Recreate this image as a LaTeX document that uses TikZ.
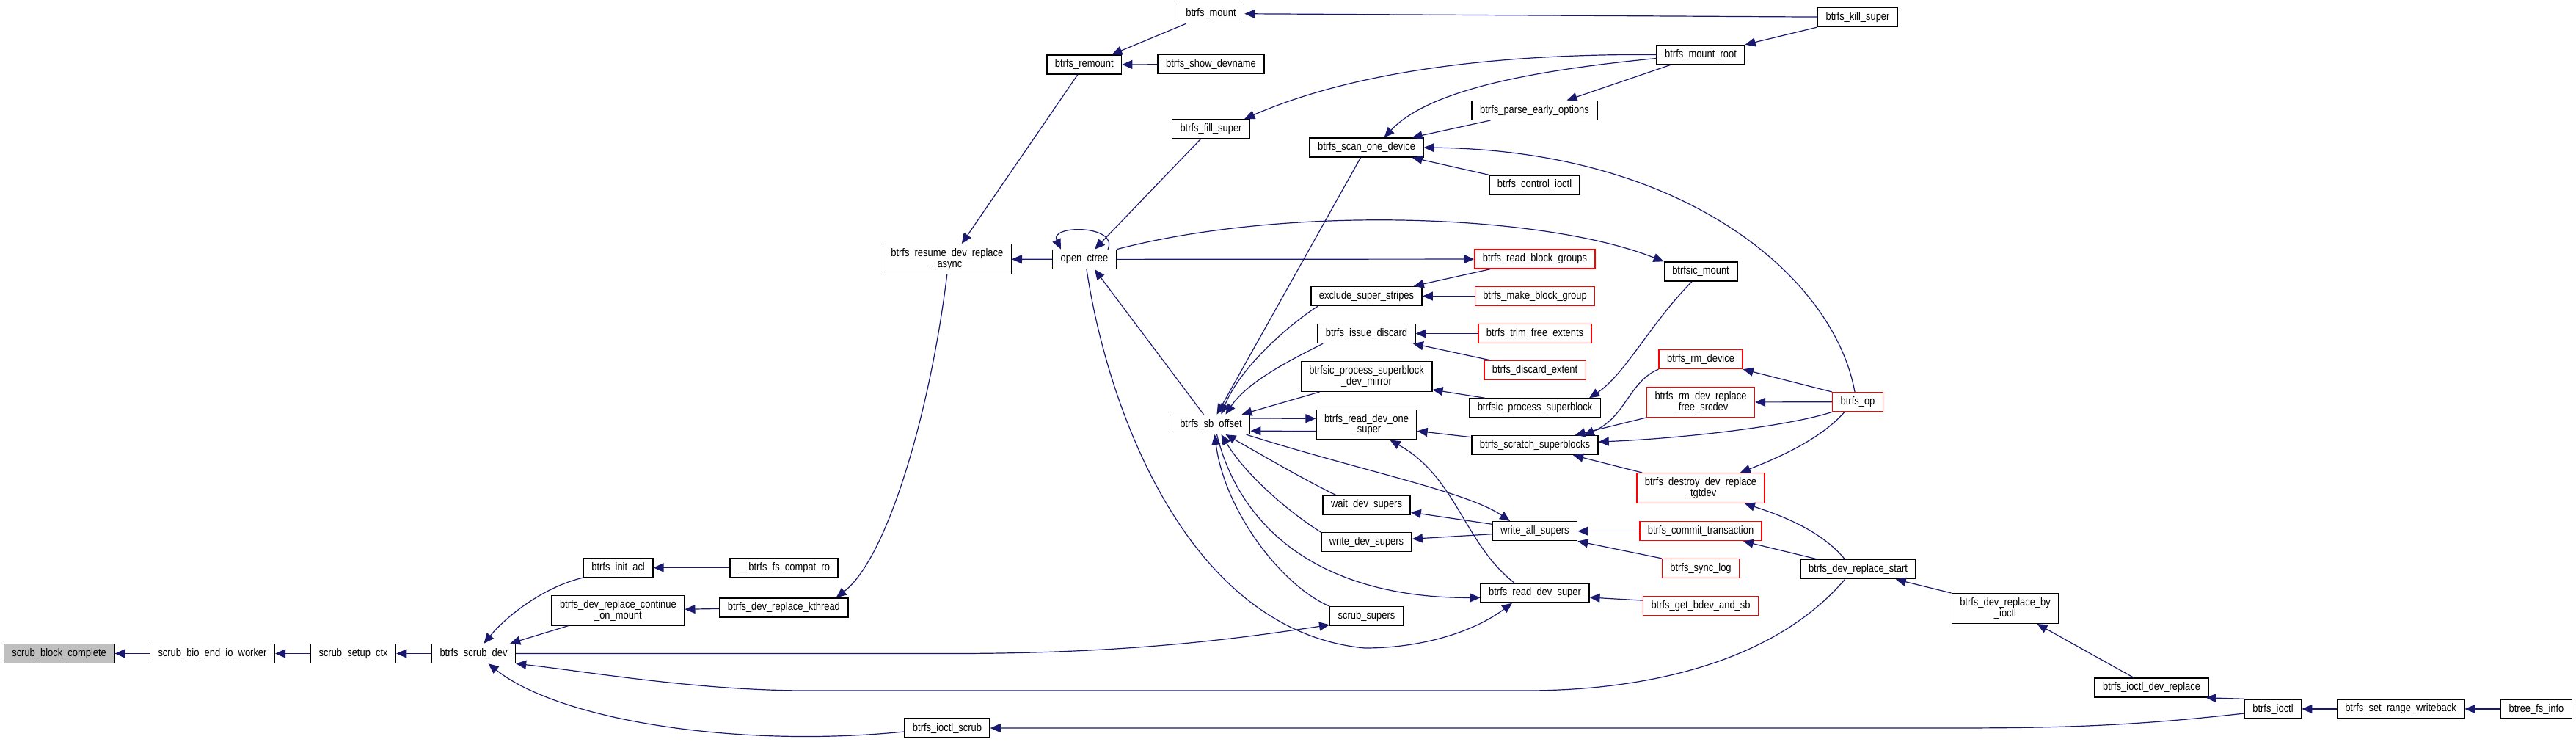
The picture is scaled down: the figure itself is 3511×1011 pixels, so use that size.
\documentclass[tikz,border=0pt]{standalone}
\usepackage{fontspec}
\setmainfont{Liberation Sans}[FakeStretch=0.85]
\usetikzlibrary{arrows.meta}
\definecolor{linkblue}{RGB}{25,25,112}
\definecolor{nodegray}{RGB}{191,191,191}
\tikzset{
  fn/.style={draw=black, fill=white, line width=0.7pt, inner xsep=5.5pt, inner ysep=1pt, minimum height=13pt, align=center, font=\fontsize{7.6}{7.3}\selectfont},
  fntwo/.style={fn, minimum height=20.3pt},
  trunc/.style={draw=red},
  link/.style={draw=linkblue, line width=0.6pt, -{Triangle[length=7pt,width=6pt]}},
}

\begin{document}
\begin{tikzpicture}[x=0.5pt, y=-0.5pt]
  \useasboundingbox (0,0) rectangle (3511,1011);

  \node[fn, fill=nodegray] (sbc) at (80.6,890.5) {scrub\_block\_complete};
  \node[fn] (sbeiw) at (289.5,890.5) {scrub\_bio\_end\_io\_worker};
  \node[fn] (ssc) at (481.6,890.5) {scrub\_setup\_ctx};
  \node[fn] (bsd) at (645.5,890.5) {btrfs\_scrub\_dev};
  \node[fn] (bia) at (842.6,773.4) {btrfs\_init\_acl};
  \node[fn] (bfcr) at (1068.5,773.4) {\_\_btrfs\_fs\_compat\_ro};
  \node[fntwo] (bdrcm) at (842.4,831.7) {btrfs\_dev\_replace\_continue\\\_on\_mount};
  \node[fn] (bdrk) at (1068.4,828) {btrfs\_dev\_replace\_kthread};
  \node[fn] (bis) at (1291,992) {btrfs\_ioctl\_scrub};
  \node[fntwo] (brdra) at (1290.8,353) {btrfs\_resume\_dev\_replace\\\_async};
  \node[fn] (brm) at (1477.8,88) {btrfs\_remount};
  \node[fn] (oc) at (1478,353.4) {open\_ctree};
  \node[fn] (bm) at (1650.5,18.5) {btrfs\_mount};
  \node[fn] (bsdn) at (1650.5,87.7) {btrfs\_show\_devname};
  \node[fn] (bfs) at (1650.5,175.7) {btrfs\_fill\_super};
  \node[fn] (bso) at (1650.5,578.4) {btrfs\_sb\_offset};
  \node[fn] (bsod) at (1862.5,201) {btrfs\_scan\_one\_device};
  \node[fn] (ess) at (1862.5,403.5) {exclude\_super\_stripes};
  \node[fn] (bid) at (1862.5,454.5) {btrfs\_issue\_discard};
  \node[fntwo] (bpsdm) at (1862.5,513) {btrfsic\_process\_superblock\\\_dev\_mirror};
  \node[fntwo] (brdos) at (1862.5,578.7) {btrfs\_read\_dev\_one\\\_super};
  \node[fn] (wds) at (1862.5,688) {wait\_dev\_supers};
  \node[fn] (wrds) at (1862.5,738.7) {write\_dev\_supers};
  \node[fn] (ss) at (1862.5,839.7) {scrub\_supers};
  \node[fn] (bpeo) at (2091.5,150.3) {btrfs\_parse\_early\_options};
  \node[fn] (bci) at (2091.5,252) {btrfs\_control\_ioctl};
  \node[fn, trunc] (brbg) at (2092,353) {btrfs\_read\_block\_groups};
  \node[fn, trunc] (bmbg) at (2092,403.5) {btrfs\_make\_block\_group};
  \node[fn, trunc] (btfe) at (2092,454.5) {btrfs\_trim\_free\_extents};
  \node[fn, trunc] (bde) at (2092,504.7) {btrfs\_discard\_extent};
  \node[fn] (bps) at (2092,556) {btrfsic\_process\_superblock};
  \node[fn] (bss) at (2092,606.5) {btrfs\_scratch\_superblocks};
  \node[fn] (was) at (2092,723.7) {write\_all\_supers};
  \node[fn] (brds) at (2092,808) {btrfs\_read\_dev\_super};
  \node[fn] (bmr) at (2318,74.5) {btrfs\_mount\_root};
  \node[fn] (bim) at (2318,370) {btrfsic\_mount};
  \node[fn, trunc] (brmd) at (2318,489.5) {btrfs\_rm\_device};
  \node[fntwo, trunc] (brdrfs) at (2318,548) {btrfs\_rm\_dev\_replace\\\_free\_srcdev};
  \node[fntwo, trunc] (bddrt) at (2318,665) {btrfs\_destroy\_dev\_replace\\\_tgtdev};
  \node[fn, trunc] (bct) at (2318,723.7) {btrfs\_commit\_transaction};
  \node[fn, trunc] (bsl) at (2318,774.5) {btrfs\_sync\_log};
  \node[fn, trunc] (bgbs) at (2318,825.3) {btrfs\_get\_bdev\_and\_sb};
  \node[fn] (bks) at (2532,23.4) {btrfs\_kill\_super};
  \node[fn, trunc] (bop) at (2532,547.7) {btrfs\_op};
  \node[fn] (bdrs) at (2532.5,775.7) {btrfs\_dev\_replace\_start};
  \node[fntwo] (bdrbi) at (2733,829) {btrfs\_dev\_replace\_by\\\_ioctl};
  \node[fn] (bidr) at (2932.5,937) {btrfs\_ioctl\_dev\_replace};
  \node[fn] (bi) at (3098,966) {btrfs\_ioctl};
  \node[fn] (bsrw) at (3272,966) {btrfs\_set\_range\_writeback};
  \node[fn] (bfi) at (3457,966) {btree\_fs\_info};

  \draw[link] (sbeiw) -- (sbc);
  \draw[link] (ssc) -- (sbeiw);
  \draw[link] (bsd) -- (ssc);
  \draw[link] (bia.south west) .. controls (740,800) and (690,840) .. ([xshift=7pt]bsd.north);
  \draw[link] ([xshift=11.5pt]bdrcm.south west) -- ([xshift=-4pt]bsd.north east);
  \draw[link] (bfcr) -- (bia);
  \draw[link] (bdrk) -- (bdrcm);
  \draw[link] (brdra.south) .. controls (1268,560) and (1210,760) .. ([xshift=-8.5pt]bdrk.north east);
  \draw[link] ([xshift=-4.5pt]brm.south) -- ([xshift=10pt]brdra.north);
  \draw[link] (oc) -- (brdra);
  \draw[link] ([xshift=6pt]bm.south west) -- ([xshift=-7pt]brm.north east);
  \draw[link] (bsdn) -- (brm);
  \draw[link] (bks) -- (bm);
  \draw[link] ([xshift=-7pt]bfs.south) -- ([xshift=7pt]oc.north);
  \draw[link] ([xshift=-6pt]oc.north east) .. controls (1525,306) and (1430,306) .. ([xshift=6pt]oc.north west);
  \draw[link] (bmr.west) .. controls (2050,73) and (1850,95) .. ([xshift=-4pt]bfs.north east);
  \draw[link] ([yshift=-2.5pt]bmr.west) .. controls (2100,95) and (1950,120) .. ([xshift=12pt]bsod.north);
  \draw[link] ([xshift=10pt]bmr.south west) -- ([xshift=22pt]bpeo.north);
  \draw[link] (bks.south west) -- (bmr.north east);
  \draw[link] ([xshift=13pt]bpeo.south west) -- ([xshift=-8pt]bsod.north east);
  \draw[link] (bci.north west) -- ([xshift=-8pt]bsod.south east);
  \draw[link] ([xshift=-2pt]bop.north) .. controls (2500,380) and (2300,205) .. (bsod.east);
  \draw[link] ([xshift=-4pt]bsod.south) -- ([xshift=4pt]bso.north);
  \draw[link] ([xshift=-5pt]bso.north) -- ([xshift=7pt]oc.south);
  \draw[link] (oc) -- (brbg);
  \draw[link] (oc.north east) .. controls (1750,280) and (2100,290) .. (bim.north west);
  \draw[link] ([xshift=1.5pt]oc.south) .. controls (1510,560) and (1620,860) .. (1860,883)
    .. controls (1940,883) and (2010,860) .. ([xshift=-15.5pt]brds.south);
  \draw[link] ([xshift=11pt]brbg.south west) -- ([xshift=-6pt]ess.north east);
  \draw[link] (bmbg) -- (ess);
  \draw[link] ([xshift=5pt]ess.south west) .. controls (1760,440) and (1690,500) .. ([xshift=7pt]bso.north);
  \draw[link] (btfe) -- (bid);
  \draw[link] ([xshift=5pt]bde.north west) -- ([xshift=-2pt]bid.south east);
  \draw[link] ([xshift=4pt]bid.south west) .. controls (1760,490) and (1700,520) .. ([xshift=10pt]bso.north);
  \draw[link] ([xshift=-6pt]bim.south) .. controls (2250,440) and (2215,510) .. ([xshift=-8pt]bps.north east);
  \draw[link] ([xshift=11pt]bps.north west) -- ([yshift=1.5pt]bpsdm.south east);
  \draw[link] ([xshift=13pt]bpsdm.south west) -- ([xshift=-6pt]bso.north east);
  \draw[link] ([yshift=4.2pt]bso.east) -- ([yshift=4.2pt]brdos.west);
  \draw[link] ([yshift=-4.4pt]brdos.west) -- ([yshift=-4.4pt]bso.east);
  \draw[link] ([yshift=5.4pt]bss.west) -- ([yshift=-4.3pt]brdos.east);
  \draw[link] (brmd.south west) .. controls (2220,520) and (2215,570) .. ([xshift=-10pt]bss.north east);
  \draw[link] (brdrfs.south west) -- ([xshift=-16pt]bss.north east);
  \draw[link] (bop.south west) .. controls (2440,580) and (2300,597) .. ([yshift=2.2pt]bss.east);
  \draw[link] ([xshift=4pt]bddrt.north west) -- ([xshift=26pt]bss.south);
  \draw[link] (bop.north west) -- (brmd.south east);
  \draw[link] (bop) -- (brdrfs);
  \draw[link] ([xshift=-9pt]bop.south) .. controls (2480,600) and (2420,625) .. ([xshift=-17pt]bddrt.north east);
  \draw[link] ([xshift=-9pt]bdrs.north) .. controls (2480,720) and (2420,700) .. ([xshift=-14pt]bddrt.south east);
  \draw[link] ([xshift=12pt]bdrs.north west) -- ([xshift=-13pt]bct.south east);
  \draw[link] (bct) -- (was);
  \draw[link] (bsl.north west) -- (was.south east);
  \draw[link] ([xshift=-3pt]bso.south east) .. controls (1850,640) and (2000,670) .. ([xshift=-17pt]was.north);
  \draw[link] ([yshift=4.7pt]was.west) -- ([yshift=-5pt]wds.east);
  \draw[link] ([yshift=-2pt]was.west) -- ([yshift=2.2pt]wrds.east);
  \draw[link] ([xshift=9pt]wds.north west) .. controls (1780,655) and (1720,620) .. ([xshift=10pt]bso.south);
  \draw[link] (wrds.north west) .. controls (1760,700) and (1700,650) .. ([xshift=7pt]bso.south);
  \draw[link] ([xshift=-14pt]brds.north) .. controls (1995,740) and (1985,650) .. ([xshift=16pt]brdos.south);
  \draw[link] ([xshift=4pt]bso.south) .. controls (1690,720) and (1800,815) .. ([yshift=-3.2pt]brds.west);
  \draw[link] ([yshift=3.6pt]bgbs.west) -- ([yshift=-3pt]brds.east);
  \draw[link] (ss.north west) .. controls (1750,800) and (1670,700) .. ([xshift=2.5pt]bso.south);
  \draw[link] (bsd.east) -- (1300,890.5) .. controls (1550,890.5) and (1700,868) .. ([yshift=1pt]ss.south west);
  \draw[link] ([xshift=-9pt]bdrs.south) .. controls (2420,900) and (2250,941) .. (2080,941) -- (1100,941)
    .. controls (950,941) and (800,915) .. (bsd.south east);
  \draw[link] ([yshift=-2.5pt]bis.west) .. controls (1000,1020) and (760,980) .. ([xshift=10pt]bsd.south);
  \draw[link] ([yshift=-3pt]bi.west) .. controls (2900,990) and (2800,992) .. (2650,992) -- (bis.east);
  \draw[link] (bdrbi.north west) -- ([xshift=-14pt]bdrs.south east);
  \draw[link] ([xshift=-12.25pt]bidr.north) -- ([xshift=-15pt]bdrbi.south east);
  \draw[link] (bi.north west) -- ([xshift=-2pt]bidr.south east);
  \draw[link] (bsrw) -- (bi);
  \draw[link] (bfi) -- (bsrw);
\end{tikzpicture}
\end{document}
